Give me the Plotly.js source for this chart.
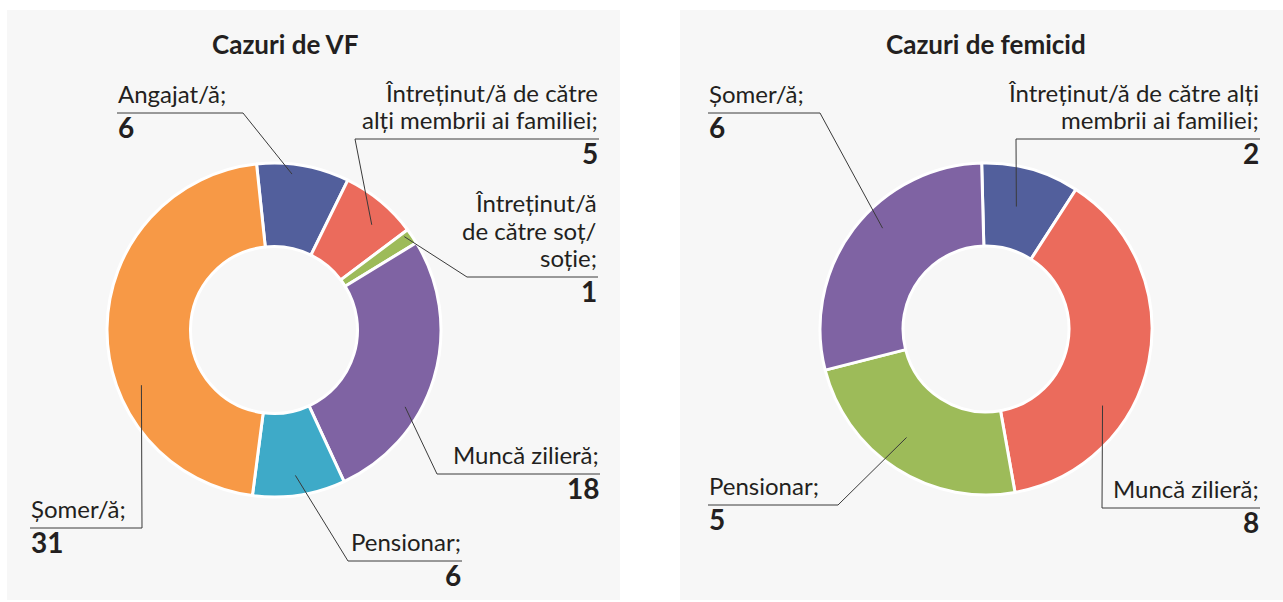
<!DOCTYPE html>
<html>
<head>
<meta charset="utf-8">
<script src="https://cdn.plot.ly/plotly-3.0.1.min.js"></script>
<style>html,body{margin:0;padding:0;background:#fff;}#chart{width:1283px;height:602px;}</style>
</head>
<body>
<div id="chart"></div>
<script>
// ---------- DATA ----------
const vfTitle = "Cazuri de VF";
const vfLabels = ["Angajat/ă", "Întreținut/ă de către alți membrii ai familiei", "Întreținut/ă de către soț/soție", "Muncă zilieră", "Pensionar", "Șomer/ă"];
const vfText = ["Angajat/ă;", "Întreținut/ă de către<br>alți membrii ai familiei;", "Întreținut/ă<br>de către soț/<br>soție;", "Muncă zilieră;", "Pensionar;", "Șomer/ă;"];
const vfValues = [6, 5, 1, 18, 6, 31];
const vfColors = ["#525f9c", "#eb6b5c", "#9dbb59", "#7f63a3", "#3eaac8", "#f79946"];

const femTitle = "Cazuri de femicid";
const femLabels = ["Întreținut/ă de către alți membrii ai familiei", "Muncă zilieră", "Pensionar", "Șomer/ă"];
const femText = ["Întreținut/ă de către alți<br>membrii ai familiei;", "Muncă zilieră;", "Pensionar;", "Șomer/ă;"];
const femValues = [2, 8, 5, 6];
const femColors = ["#525f9c", "#eb6b5c", "#9dbb59", "#7f63a3"];

// ---------- LAYOUT (pixel geometry) ----------
const W = 1283, H = 602;
const px = x => x / W;
const py = y => 1 - y / H;
const TXT = "#231f20", LINE = "#3a3a3a";
const FONT = "Lato, 'Open Sans', sans-serif";
const LABEL_SIZE = 24, NUM_SIZE = 28, TITLE_SIZE = 26, LINE_GAP = 27.5;

const panels = [
  {x0: 7, x1: 620, y0: 10, y1: 600},
  {x0: 680, x1: 1283, y0: 10, y1: 600}
];
const pies = [
  {cx: 274, cy: 330, R: 167, rot: -6, titleX: 285, titleY: 44},
  {cx: 986, cy: 329, R: 166, rot: -1.5, titleX: 986, titleY: 44}
];
// label layout: side of text alignment, underline y, underline x-range, elbow x,
// anchor position within slice (fraction of angular span, fraction of radius)
const vfLayout = [
  {align: "left",  uy: 113, ux0: 117, ux1: 243, ex: 243, af: 0.39, rf: 0.94},
  {align: "right", uy: 139, ux0: 355, ux1: 599, ex: 355, af: 0.62, rf: 0.86},
  {align: "right", uy: 277, ux0: 467, ux1: 598, ex: 467, af: 0.24, rf: 0.96},
  {align: "right", uy: 474, ux0: 437, ux1: 600, ex: 437, af: 0.64, rf: 0.91},
  {align: "right", uy: 561, ux0: 348, ux1: 462, ex: 348, af: 0.51, rf: 0.88},
  {align: "left",  uy: 528, ux0: 30,  ux1: 142, ex: 142, af: 0.36, rf: 0.86}
];
const femLayout = [
  {align: "right", uy: 139, ux0: 1016, ux1: 1260, ex: 1016, af: 0.45, rf: 0.76},
  {align: "right", uy: 508, ux0: 1102, ux1: 1260, ex: 1102, af: 0.66, rf: 0.84},
  {align: "left",  uy: 505, ux0: 708,  ux1: 838,  ex: 838,  af: 0.54, rf: 0.81},
  {align: "left",  uy: 113, ux0: 708,  ux1: 820,  ex: 820,  af: 0.57, rf: 0.87}
];

const shapes = [];
const annotations = [];

panels.forEach(p => shapes.push({
  type: "rect", xref: "paper", yref: "paper", layer: "below",
  x0: px(p.x0), x1: px(p.x1), y0: py(p.y1), y1: py(p.y0),
  fillcolor: "#f7f7f7", line: {width: 0}
}));

function pieTrace(labels, values, colors, pie) {
  return {
    type: "pie", labels: labels, values: values, sort: false, direction: "clockwise",
    rotation: pie.rot, hole: 0.5, textinfo: "none", hoverinfo: "label+value",
    marker: {colors: colors, line: {color: "#ffffff", width: 3}},
    domain: {x: [px(pie.cx - pie.R), px(pie.cx + pie.R)], y: [py(pie.cy + pie.R), py(pie.cy - pie.R)]},
    automargin: false
  };
}

// place text so that its baseline sits at pixel y = baseline
function textAt(x, baseline, anchor, text, size, bold) {
  annotations.push({xref: "paper", yref: "paper", x: px(x), y: py(baseline + 0.27 * size),
    xanchor: anchor, yanchor: "bottom", align: anchor, showarrow: false, borderpad: 0,
    text: bold ? "<b>" + text + "</b>" : text, font: {family: FONT, size: size, color: TXT}});
}

function addLabels(text, values, layoutArr, pie, title) {
  const total = values.reduce((a, b) => a + b, 0);
  let cum = 0;
  values.forEach((v, i) => {
    const L = layoutArr[i];
    const ang = (pie.rot + 360 * (cum + L.af * v) / total) * Math.PI / 180;
    cum += v;
    const ax = pie.cx + L.rf * pie.R * Math.sin(ang);
    const ay = pie.cy - L.rf * pie.R * Math.cos(ang);
    shapes.push({type: "line", xref: "paper", yref: "paper",
      x0: px(ax), y0: py(ay), x1: px(L.ex), y1: py(L.uy), line: {color: LINE, width: 1}});
    shapes.push({type: "line", xref: "paper", yref: "paper",
      x0: px(L.ux0), y0: py(L.uy), x1: px(L.ux1), y1: py(L.uy), line: {color: LINE, width: 1}});
    const tx = L.align === "left" ? L.ux0 : L.ux1;
    const lines = text[i].split("<br>");
    const n = lines.length;
    lines.forEach((ln, k) => textAt(tx, L.uy - 10 - (n - 1 - k) * LINE_GAP, L.align, ln, LABEL_SIZE, false));
    textAt(tx, L.uy + 24, L.align, String(values[i]), NUM_SIZE, true);
  });
  annotations.push({xref: "paper", yref: "paper", x: px(pie.titleX), y: py(pie.titleY),
    xanchor: "center", yanchor: "middle", showarrow: false,
    text: "<b>" + title + "</b>", font: {family: FONT, size: TITLE_SIZE, color: TXT}});
}

addLabels(vfText, vfValues, vfLayout, pies[0], vfTitle);
addLabels(femText, femValues, femLayout, pies[1], femTitle);

const data = [
  pieTrace(vfLabels, vfValues, vfColors, pies[0]),
  pieTrace(femLabels, femValues, femColors, pies[1])
];

const layout = {
  width: W, height: H, margin: {l: 0, r: 0, t: 0, b: 0},
  paper_bgcolor: "#ffffff", showlegend: false,
  shapes: shapes, annotations: annotations,
  font: {family: FONT}
};

Plotly.newPlot("chart", data, layout, {displayModeBar: false, staticPlot: true});
</script>
</body>
</html>
